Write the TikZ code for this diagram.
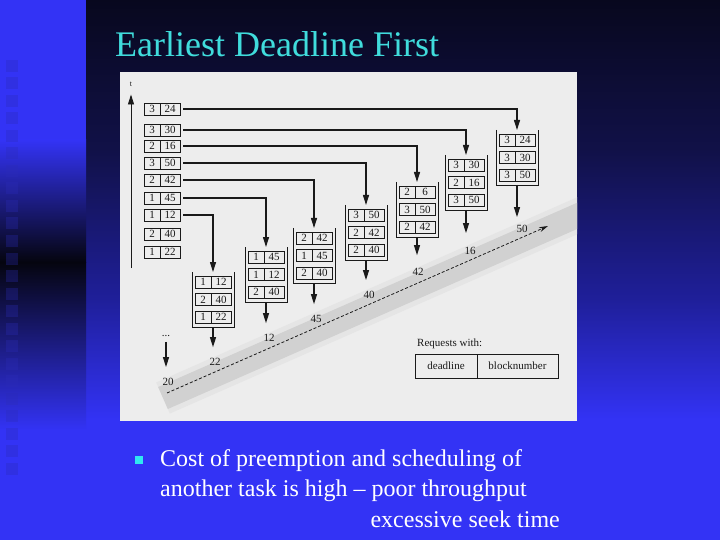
\documentclass[tikz,border=0pt]{standalone}
\usepackage{fontspec}
\setmainfont{Liberation Serif}
\usetikzlibrary{arrows.meta,positioning}

\definecolor{slideblue}{HTML}{3333F5}
\definecolor{slidenavy}{HTML}{08081E}
\definecolor{slidedeep}{HTML}{111148}
\definecolor{slidemid}{HTML}{1F1F9A}
\definecolor{stripdark}{HTML}{05050F}
\definecolor{stripsq}{HTML}{2C2CB8}
\definecolor{titlecyan}{HTML}{40DCDC}
\definecolor{bulletcyan}{HTML}{30E8F0}
\definecolor{scanpaper}{HTML}{EDEDED}
\definecolor{scanink}{HTML}{1A1A1A}

\tikzset{
	cellA/.style={draw=scanink, line width=0.9pt, outer sep=0pt, inner sep=0pt,
		minimum width=16pt, minimum height=12pt, text=scanink, font=\fontsize{11}{11}\selectfont},
	cellB/.style={cellA, minimum width=20pt},
	pile/.style={outer sep=0pt, inner sep=0pt, minimum width=42pt, minimum height=55pt},
	feed/.style={draw=scanink, line width=1.1pt, -{Triangle[length=10pt,width=6pt]}},
	num/.style={text=scanink, inner sep=1pt, font=\fontsize{11}{11}\selectfont},
	legcell/.style={draw=scanink, line width=0.8pt, outer sep=0pt, inner sep=0pt, minimum height=24pt,
		text=scanink, font=\fontsize{11}{11}\selectfont},
	slidetext/.style={anchor=base west, inner sep=0pt, text=white, font=\fontsize{24}{24}\selectfont},
}

% one request: deadline | blocknumber
\newcommand{\reqpair}[4]{%
	\node[cellA] (#1a) at (#2) {#3};
	\node[cellB, right=0pt of #1a] (#1b) {#4};
}
% queue of three requests, open at the top
\newcommand{\reqqueue}[8]{%
	\node[pile, anchor=north] (#1) at (#2) {};
	\draw[scanink, line width=0.9pt] (#1.north west) -- (#1.south west) -- (#1.south east) -- (#1.north east);
	\reqpair{#1x}{[shift={(-10,10)}]#1.north}{#3}{#4}
	\reqpair{#1y}{[shift={(-10,27.5)}]#1.north}{#5}{#6}
	\reqpair{#1z}{[shift={(-10,45)}]#1.north}{#7}{#8}
}

\begin{document}
\begin{tikzpicture}[x=1pt, y=-1pt]
	\useasboundingbox (0,0) rectangle (720,540);

	% slide background
	\shade[top color=slidenavy, bottom color=slidedeep] (86,0) rectangle (720,150);
	\shade[top color=slidedeep, bottom color=slidemid] (86,150) rectangle (720,300);
	\shade[top color=slidemid, bottom color=slideblue] (86,300) rectangle (720,420);
	\fill[slideblue] (86,420) rectangle (720,540);

	\fill[slideblue] (0,0) rectangle (86,140);
	\shade[top color=slideblue, bottom color=stripdark] (0,140) rectangle (86,262);
	\shade[top color=stripdark, bottom color=slideblue] (0,262) rectangle (86,430);
	\fill[slideblue] (0,430) rectangle (86,540);
	\foreach \k in {0,...,23}
		\fill[stripsq, opacity=0.3] (6,60+17.5*\k) rectangle ++(12,12);

	% scanned figure
	\fill[scanpaper] (120,72) rectangle (577,421);
	\begin{scope}
		\clip (120,72) rectangle (577,421);
		\draw[black!10, line width=34pt] (163,398) -- (620,197);
		\draw[black!18, line width=24pt] (163,398) -- (620,197);
	\end{scope}

	% time axis
	\node[num, font=\fontsize{8}{8}\selectfont] (tlab) at (131,84) {t};
	\coordinate (tfoot) at (131,268);
	\draw[feed, line width=0.9pt, shorten >=7pt] (tfoot) -- (tlab.south);

	% incoming requests
	\reqpair{q1}{152,109}{3}{24}
	\reqpair{q2}{152,130}{3}{30}
	\reqpair{q3}{152,146}{2}{16}
	\reqpair{q4}{152,163}{3}{50}
	\reqpair{q5}{152,180}{2}{42}
	\reqpair{q6}{152,198}{1}{45}
	\reqpair{q7}{152,215}{1}{12}
	\reqpair{q8}{152,234}{2}{40}
	\reqpair{q9}{152,252}{1}{22}

	% queues
	\reqqueue{s1}{213,272}{1}{12}{2}{40}{1}{22}
	\reqqueue{s2}{266,247}{1}{45}{1}{12}{2}{40}
	\reqqueue{s3}{314,228}{2}{42}{1}{45}{2}{40}
	\reqqueue{s4}{366,205}{3}{50}{2}{42}{2}{40}
	\reqqueue{s5}{417,182}{2}{6}{3}{50}{2}{42}
	\reqqueue{s6}{466,155}{3}{30}{2}{16}{3}{50}
	\reqqueue{s7}{517,130}{3}{24}{3}{30}{3}{50}

	\draw[feed, shorten <=3pt] (q1b.east) -| (s7.north);
	\draw[feed, shorten <=3pt] (q2b.east) -| (s6.north);
	\draw[feed, shorten <=3pt] (q3b.east) -| (s5.north);
	\draw[feed, shorten <=3pt] (q4b.east) -| (s4.north);
	\draw[feed, shorten <=3pt] (q5b.east) -| (s3.north);
	\draw[feed, shorten <=3pt] (q6b.east) -| (s2.north);
	\draw[feed, shorten <=3pt] (q7b.east) -| (s1.north);

	%labels
	\node[num] (more) at (166,336) {...};
	\node[num] (d0) at (168,382) {20};
	\node[num] (d1) at (215,362) {22};
	\node[num] (d2) at (269,338) {12};
	\node[num] (d3) at (316,319) {45};
	\node[num] (d4) at (369,295) {40};
	\node[num] (d5) at (418,272) {42};
	\node[num] (d6) at (470,251) {16};
	\node[num] (d7) at (522,229) {50};

	\draw[feed, shorten <=4pt, shorten >=10pt] (more.south) -- (more.south |- d0.north);
	\draw[feed, shorten >=10pt] (s1.south) -- (s1.south |- d1.north);
	\draw[feed, shorten >=10pt] (s2.south) -- (s2.south |- d2.north);
	\draw[feed, shorten >=10pt] (s3.south) -- (s3.south |- d3.north);
	\draw[feed, shorten >=10pt] (s4.south) -- (s4.south |- d4.north);
	\draw[feed, shorten >=12pt] (s5.south) -- (s5.south |- d5.north);
	\draw[feed, shorten >=13pt] (s6.south) -- (s6.south |- d6.north);
	\draw[feed, shorten >=7pt] (s7.south) -- (s7.south |- d7.north);

	\coordinate (tl0) at (167,393);
	\coordinate (tl1) at (548,226);
	\draw[scanink, line width=0.8pt, dash pattern=on 3pt off 2pt, -{Stealth[length=9pt,width=5pt]}] (tl0) -- (tl1);

	% legend
	\node[num, anchor=west] (legtitle) at (416,344) {Requests with:};
	\node[legcell, minimum width=62pt] (legA) at (446,366) {deadline};
	\node[legcell, minimum width=81pt, right=0pt of legA] (legB) {blocknumber};

	% title and bullet
	\node[anchor=base west, inner sep=0pt, text=titlecyan, font=\fontsize{36}{36}\selectfont] (title) at (115,57) {Earliest Deadline First};
	\node[fill=bulletcyan, minimum size=8pt, inner sep=0pt] (bullet) at (139,460) {};
	\node[slidetext] (line1) at (160,466) {Cost of preemption and scheduling of};
	\node[slidetext] (line2) at (160,496) {another task is high -- poor throughput};
	\node[slidetext, anchor=base east] (line3) at (560,527) {excessive seek time};
\end{tikzpicture}
\end{document}
